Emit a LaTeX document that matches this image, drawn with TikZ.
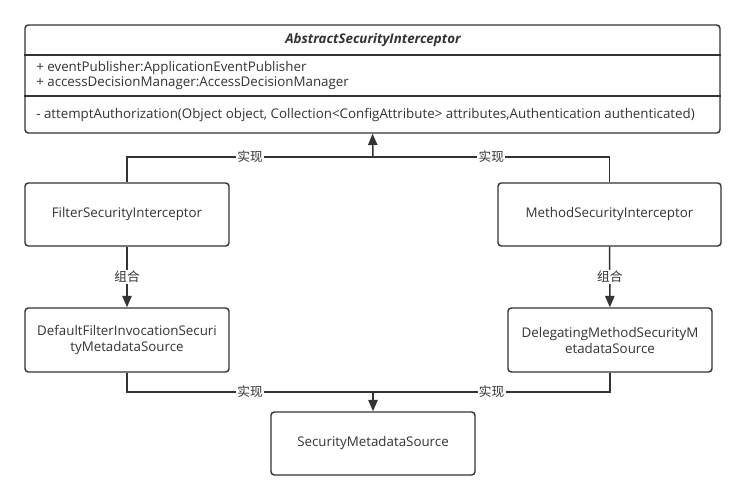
\documentclass[tikz,border=0pt]{standalone}
\usepackage{fontspec}
\setmainfont{Open Sans}
\newfontfamily\cjk{Noto Sans CJK SC}
\usepackage{tikz}
\usetikzlibrary{arrows.meta}
\definecolor{ink}{HTML}{333333}

\begin{document}
\begin{tikzpicture}[x=0.75pt, y=-0.75pt]
			\tikzset{cls/.style={shape = rectangle, draw = ink, rounded corners = 2.5pt, line width = 1.1pt, text = ink, font = \fontsize{10}{12}\selectfont, align = center, inner sep = 0pt}}
			\tikzset{txt/.style={text = ink, font = \fontsize{10}{12}\selectfont, inner sep = 0pt}}
			\tikzset{rel/.style={fill = white, text = ink, font = \cjk\fontsize{9.5}{11}\selectfont, inner sep = 1pt}}
			\tikzset{edge/.style={draw = ink, line width = 1.1pt}}
			\tikzset{arr/.style={-{Triangle[length = 8.5pt, width = 7pt]}, draw = ink, line width = 1.1pt}}
			\useasboundingbox (0, 0) rectangle (746, 499);
			%vertices
			\node[cls, minimum width = 695*0.75pt, minimum height = 108*0.75pt] (abs) at (372.5, 79) {};
			\draw[edge] (abs.west |- 0, 55) -- (abs.east |- 0, 55);
			\draw[edge] (abs.west |- 0, 96) -- (abs.east |- 0, 96);
			\node[txt, font = \fontsize{10}{12}\selectfont\bfseries\itshape] (title) at (373, 40) {AbstractSecurityInterceptor};
			\node[txt, anchor = west] (attr1) at (36, 68) {+ eventPublisher:ApplicationEventPublisher};
			\node[txt, anchor = west] (attr2) at (36, 83) {+ accessDecisionManager:AccessDecisionManager};
			\node[txt, anchor = west] (meth) at (36, 115) {- attemptAuthorization(Object object, Collection<ConfigAttribute> attributes,Authentication authenticated)};
			\node[cls, minimum width = 204*0.75pt, minimum height = 63*0.75pt] (fsi) at (127, 214.5) {FilterSecurityInterceptor};
			\node[cls, minimum width = 223*0.75pt, minimum height = 63*0.75pt] (msi) at (609.5, 214.5) {MethodSecurityInterceptor};
			\node[cls, minimum width = 204*0.75pt, minimum height = 64*0.75pt] (dfi) at (127, 340) {DefaultFilterInvocationSecuri\\tyMetadataSource};
			\node[cls, minimum width = 204*0.75pt, minimum height = 64*0.75pt] (dms) at (610, 340) {DelegatingMethodSecurityM\\etadataSource};
			\node[cls, minimum width = 204*0.75pt, minimum height = 63*0.75pt] (sms) at (373, 443.5) {SecurityMetadataSource};
			\coordinate (top) at (373, 157);
			\coordinate (bot) at (373, 392);
			%edges
			\draw[edge] (fsi.north) -- (fsi.north |- top) -- node[rel]{实现} (top);
			\draw[edge] (msi.north) -- (msi.north |- top) -- node[rel]{实现} (top);
			\draw[arr] (top) -- (abs.south);
			\draw[arr] (fsi) -- node[rel]{组合} (dfi);
			\draw[arr] (msi) -- node[rel]{组合} (dms);
			\draw[edge] (dfi.south) -- (dfi.south |- bot) -- node[rel]{实现} (bot);
			\draw[edge] (dms.south) -- (dms.south |- bot) -- node[rel]{实现} (bot);
			\draw[arr] (bot) -- (sms.north);
		\end{tikzpicture}
\end{document}
